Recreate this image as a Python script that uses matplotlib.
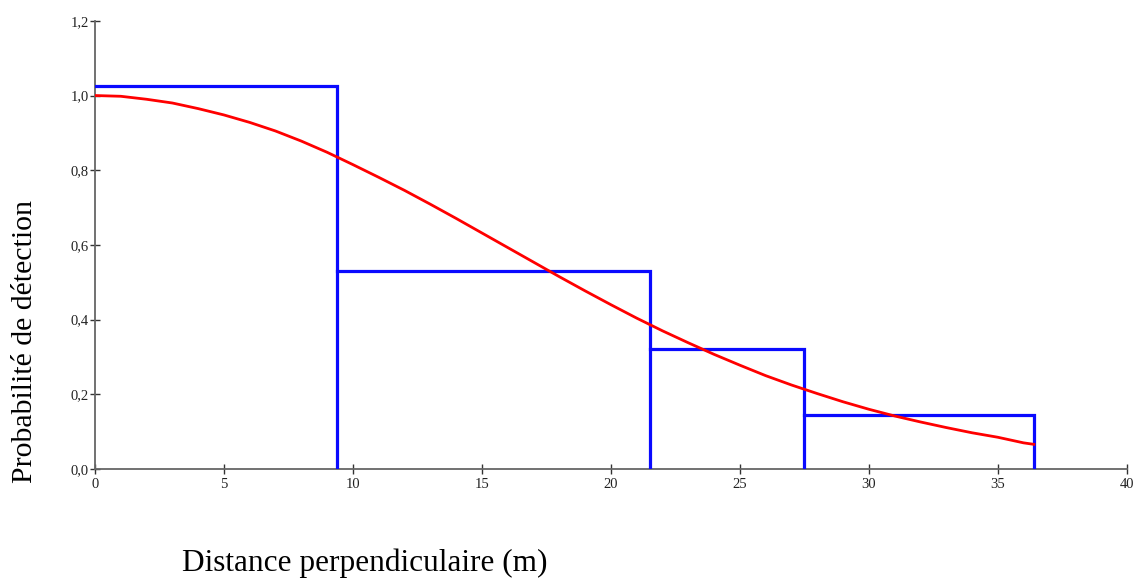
import matplotlib.pyplot as plt
from matplotlib.ticker import FuncFormatter

# Histogram of detections (bar edges and heights)
bin_edges = [0, 9.4, 21.5, 27.5, 36.4]
bin_heights = [1.025, 0.53, 0.322, 0.145]

# Fitted detection function
curve_x = [0, 1, 2, 3, 4, 5, 6, 7, 8, 9, 10, 11, 12, 13, 14, 15, 16, 17, 18,
           19, 20, 21, 22, 23, 24, 25, 26, 27, 28, 29, 30, 31, 32, 33, 34, 35, 36, 36.4]
curve_y = [1.00, 0.998, 0.99, 0.98, 0.965, 0.948, 0.928, 0.905, 0.878, 0.848,
           0.815, 0.781, 0.746, 0.709, 0.671, 0.632, 0.593, 0.554, 0.515, 0.477,
           0.44, 0.404, 0.37, 0.338, 0.307, 0.278, 0.25, 0.225, 0.202, 0.18,
           0.16, 0.142, 0.126, 0.111, 0.097, 0.085, 0.07, 0.066]

x_ticks = [0, 5, 10, 15, 20, 25, 30, 35, 40]
y_ticks = [0.0, 0.2, 0.4, 0.6, 0.8, 1.0, 1.2]

XLABEL = "Distance perpendiculaire (m)"
YLABEL = "Probabilité de détection"

plt.rcParams['font.family'] = ['Liberation Serif', 'DejaVu Serif']

fig = plt.figure(figsize=(11.35, 5.79), dpi=100)
ax = fig.add_axes([0.0837, 0.19, 0.909, 0.774])

# bars: top edge + right edge only
for i, h in enumerate(bin_heights):
    left, right = bin_edges[i], bin_edges[i + 1]
    ax.plot([left, right, right], [h, h, 0], color='#0a0aff', lw=2.3,
            solid_joinstyle='miter', zorder=3)

ax.plot(curve_x, curve_y, color='#ff0000', lw=2.0, zorder=4)

ax.set_xlim(0, 40)
ax.set_ylim(0, 1.2)
ax.set_xticks(x_ticks)
ax.set_yticks(y_ticks)
ax.xaxis.set_major_formatter(FuncFormatter(lambda v, p: "%d" % v))
ax.yaxis.set_major_formatter(FuncFormatter(lambda v, p: ("%.1f" % v).replace('.', ',')))

for side in ['top', 'right']:
    ax.spines[side].set_visible(False)
for side in ['left', 'bottom']:
    ax.spines[side].set_color('#666666')
    ax.spines[side].set_linewidth(1.3)

ax.tick_params(axis='both', direction='inout', length=7, width=1.0,
               color='#333333', labelsize=10.5, labelcolor='#222222')
ax.tick_params(axis='x', pad=3)
ax.tick_params(axis='y', pad=1)

fig.text(0.321, 0.028, XLABEL, ha='center', va='center', fontsize=22.5)
fig.text(0.022, 0.41, YLABEL, ha='center', va='center', rotation=90, fontsize=21.5)

fig.savefig('out.png', dpi=100)
